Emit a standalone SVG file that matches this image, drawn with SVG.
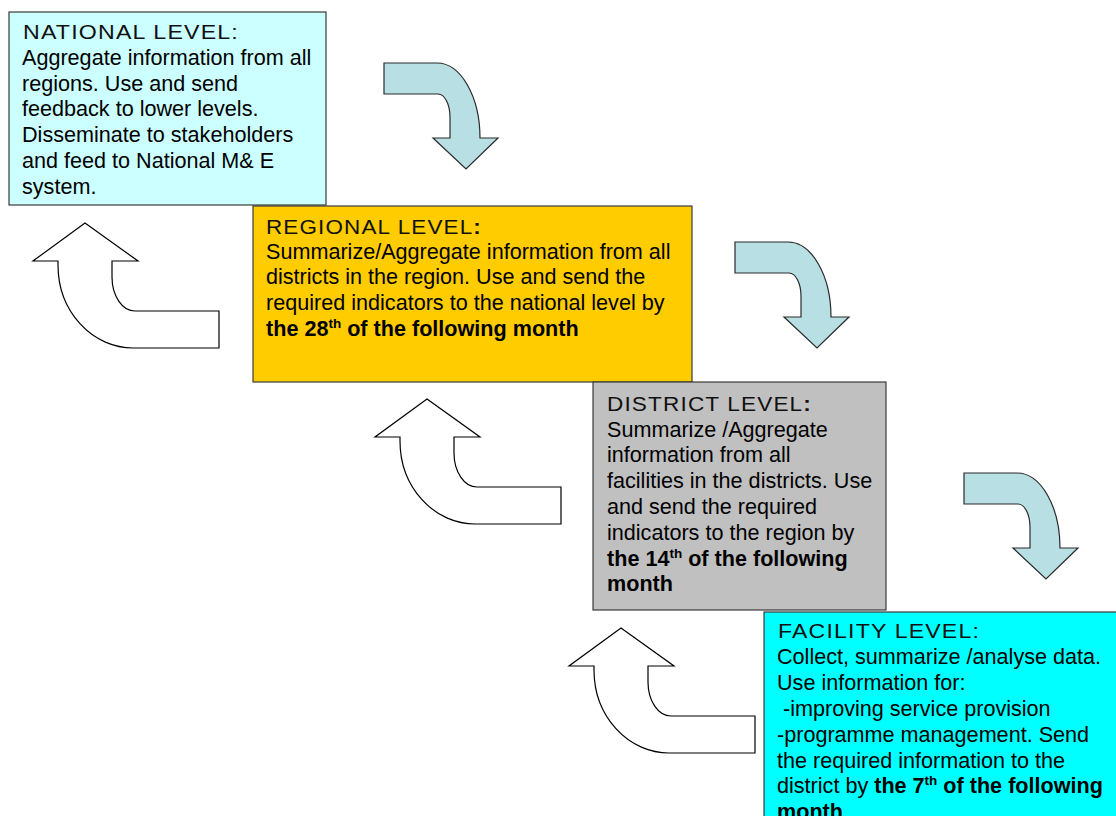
<svg xmlns="http://www.w3.org/2000/svg" xmlns:xlink="http://www.w3.org/1999/xlink" width="1116" height="816" viewBox="0 0 1116 816">
<style>
.box{stroke:#3a3a3a;stroke-width:1.2}
.hd{font-family:"Liberation Sans",Arial,sans-serif;font-size:19.5px;letter-spacing:1px;fill:#111}
.tx{font-family:"Liberation Sans",Arial,sans-serif;font-size:21.6px;fill:#000}
.b{font-weight:bold}
.sup{font-size:13.5px;font-weight:bold}
.down{fill:#b8dfe3;stroke:#2a2a2a;stroke-width:1.2;stroke-linejoin:miter}
.up{fill:#ffffff;stroke:#000;stroke-width:1.2;stroke-linejoin:miter}
</style>
<defs>
<path id="downArrow" d="M384,63 L437,63 A43,75 0 0 1 480,138 L498,138 L466,169 L433,138 L450,138 L450,117 A12,23 0 0 0 438,94 L384,94 Z"/>
<path id="upArrow" d="M85,223 L138,261 L112,261 L112,277 A23,34 0 0 0 135,311 L219,311 L219,348 L133,348 A75,83 0 0 1 58,265 L58,261 L33,261 Z"/>
</defs>

<g id="national">
<rect class="box" x="9" y="12" width="317" height="193" fill="#ccffff"/>
<text class="hd" x="23" y="39" textLength="216" lengthAdjust="spacingAndGlyphs">NATIONAL LEVEL:</text>
<text class="tx" x="22" y="65">Aggregate information from all</text>
<text class="tx" x="22" y="91">regions. Use and send</text>
<text class="tx" x="22" y="116">feedback to lower levels.</text>
<text class="tx" x="22" y="142">Disseminate to stakeholders</text>
<text class="tx" x="22" y="168">and feed to National M&amp; E</text>
<text class="tx" x="22" y="194">system.</text>
</g>

<g id="regional">
<rect class="box" x="253" y="206" width="439" height="176" fill="#ffcc00"/>
<text class="hd" x="266" y="233.5" textLength="216" lengthAdjust="spacingAndGlyphs">REGIONAL LEVEL<tspan class="b">:</tspan></text>
<text class="tx" x="266" y="258.5">Summarize/Aggregate information from all</text>
<text class="tx" x="266" y="284.3">districts in the region. Use and send the</text>
<text class="tx" x="266" y="310.1">required indicators to the national level by</text>
<text class="tx b" x="266" y="336">the 28<tspan class="sup" dy="-8">th</tspan><tspan dy="8"> of the following month</tspan></text>
</g>

<g id="district">
<rect class="box" x="593" y="382" width="293" height="228" fill="#c0c0c0"/>
<text class="hd" x="607" y="410.5" textLength="205" lengthAdjust="spacingAndGlyphs">DISTRICT LEVEL<tspan class="b">:</tspan></text>
<text class="tx" x="607" y="436.5">Summarize /Aggregate</text>
<text class="tx" x="607" y="462.3">information from all</text>
<text class="tx" x="607" y="488.1">facilities in the districts. Use</text>
<text class="tx" x="607" y="513.9">and send the required</text>
<text class="tx" x="607" y="539.7">indicators to the region by</text>
<text class="tx b" x="607" y="565.5">the 14<tspan class="sup" dy="-8">th</tspan><tspan dy="8"> of the following</tspan></text>
<text class="tx b" x="607" y="591.3">month</text>
</g>

<g id="facility">
<rect class="box" x="764" y="612" width="400" height="260" fill="#00ffff"/>
<text class="hd" x="778" y="637.5" textLength="202" lengthAdjust="spacingAndGlyphs">FACILITY LEVEL:</text>
<text class="tx" x="777" y="664.3">Collect, summarize /analyse data.</text>
<text class="tx" x="777" y="690.1">Use information for:</text>
<text class="tx" x="783" y="715.9">-improving service provision</text>
<text class="tx" x="777" y="741.7">-programme management. Send</text>
<text class="tx" x="777" y="767.5">the required information to the</text>
<text class="tx" x="777" y="793.3">district by <tspan class="b">the 7</tspan><tspan class="sup" dy="-8">th</tspan><tspan class="b" dy="8"> of the following</tspan></text>
<text class="tx b" x="777" y="819.1">month</text>
</g>

<g id="connectors">
<use xlink:href="#downArrow" class="down"/>
<use xlink:href="#downArrow" class="down" transform="translate(351,179)"/>
<use xlink:href="#downArrow" class="down" transform="translate(580,410)"/>
<use xlink:href="#upArrow" class="up"/>
<use xlink:href="#upArrow" class="up" transform="translate(342,176)"/>
<use xlink:href="#upArrow" class="up" transform="translate(536,405)"/>
</g>
</svg>
